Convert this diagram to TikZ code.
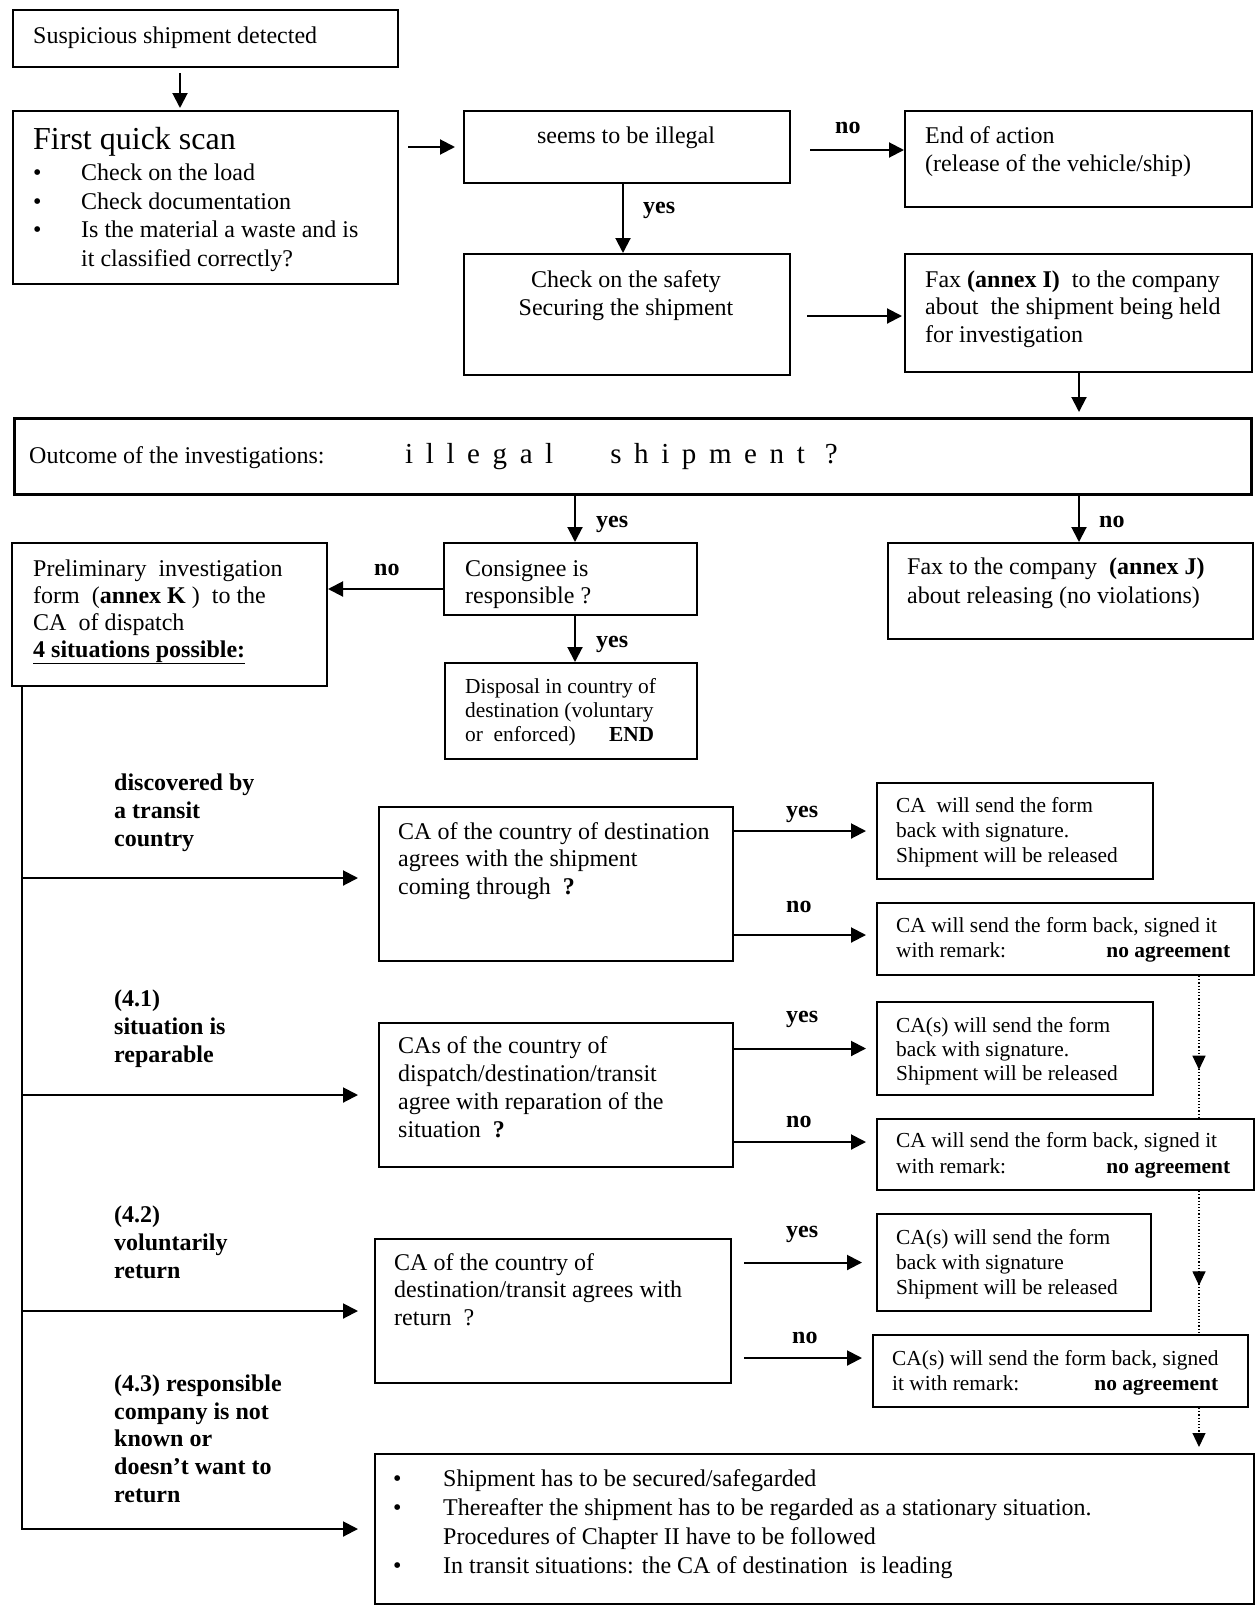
\documentclass[tikz,border=0pt]{standalone}
\usepackage{fontspec}
\setmainfont{Liberation Serif}
\usetikzlibrary{arrows.meta}
\usetikzlibrary{decorations.markings}

\newcommand{\lsp}{\hspace{12.6pt}}

\tikzset{
  box/.style={draw, line width=2pt, inner sep=0pt, anchor=north west},
  txt/.style={anchor=base west, inner sep=0pt, align=left, font=\fontsize{24}{28}\selectfont},
  smalltxt/.style={txt, font=\fontsize{21.4}{25}\selectfont},
  lbl/.style={txt, font=\fontsize{24}{27.6}\selectfont\bfseries},
  yn/.style={anchor=base west, inner sep=0pt, font=\fontsize{24}{28}\selectfont\bfseries},
  arr/.style={->, line width=2pt},
  dotarr/.style={line width=1.2pt, dotted, postaction={decorate},
    decoration={markings, mark=at position 0.66 with {\arrow{Triangle[length=14pt,width=13pt]}}}}
}

\begin{document}
\begin{tikzpicture}[x=1pt, y=-1pt, >={Triangle[length=15pt,width=15pt]}]
\useasboundingbox (0,0) rectangle (1255,1606);

% boxes
\node[box, minimum width=385pt, minimum height=57pt] (detect) at (12,9) {};
\node[box, minimum width=385pt, minimum height=173pt] (scan) at (12,110) {};
\node[box, minimum width=326pt, minimum height=72pt] (illegal) at (463,110) {};
\node[box, minimum width=347pt, minimum height=96pt] (endact) at (904,110) {};
\node[box, minimum width=326pt, minimum height=121pt] (safety) at (463,253) {};
\node[box, minimum width=347pt, minimum height=118pt] (faxI) at (904,253) {};
\node[box, line width=3pt, minimum width=1237pt, minimum height=76pt] (outcome) at (13,417) {};
\node[box, minimum width=253pt, minimum height=72pt] (consignee) at (443,542) {};
\node[box, minimum width=315pt, minimum height=143pt] (prelim) at (11,542) {};
\node[box, minimum width=252pt, minimum height=96pt] (disposal) at (444,662) {};
\node[box, minimum width=365pt, minimum height=96pt] (faxJ) at (887,542) {};
\node[box, minimum width=354pt, minimum height=154pt] (transitq) at (378,806) {};
\node[box, minimum width=276pt, minimum height=96pt] (transityes) at (876,782) {};
\node[box, minimum width=377pt, minimum height=72pt] (transitno) at (876,902) {};
\node[box, minimum width=354pt, minimum height=144pt] (repairq) at (378,1022) {};
\node[box, minimum width=276pt, minimum height=93pt] (repairyes) at (876,1001) {};
\node[box, minimum width=377pt, minimum height=71pt] (repairno) at (876,1118) {};
\node[box, minimum width=356pt, minimum height=144pt] (returnq) at (374,1238) {};
\node[box, minimum width=274pt, minimum height=97pt] (returnyes) at (876,1213) {};
\node[box, minimum width=375pt, minimum height=72pt] (returnno) at (872,1334) {};
\node[box, minimum width=879pt, minimum height=150pt] (final) at (374,1453) {};

% texts in the upper part (multi-line texts sit on their last line)
\node[txt] (detect-t) at (33,43) {Suspicious shipment detected};
\node[txt, font=\fontsize{32}{36}\selectfont] (scan-t) at (33,149) {First quick scan};
\node[txt, font=\fontsize{24}{28.4}\selectfont] (scan-l) at (33,266) {\makebox[48pt][l]{\textbullet}Check on the load\\
  \makebox[48pt][l]{\textbullet}Check documentation\\
  \makebox[48pt][l]{\textbullet}Is the material a waste and is\\
  \hspace*{48pt}it classified correctly?};
\node[txt, align=center, anchor=base] (illegal-t) at (626,143) {seems to be illegal};
\node[txt] (endact-t) at (925,171) {End of action\\(release of the vehicle/ship)};
\node[txt, align=center, anchor=base] (safety-t) at (626,315) {Check on the safety\\Securing the shipment};
\node[txt, font=\fontsize{24}{27.5}\selectfont] (faxI-t) at (925,342) {Fax \textbf{(annex I)}\ \ to the company\\about\ \ the shipment being held\\for investigation};
\node[txt] (outcome-t) at (29,463) {Outcome of the investigations:};
\node[txt, font=\fontsize{29}{30}\selectfont] (outcome-q) at (405,463)
  {i\lsp l\lsp l\lsp e\lsp g\lsp a\lsp l\hspace{57pt}s\lsp h\lsp i\lsp p\lsp m\lsp e\lsp n\lsp t\hspace{20pt}?};
\node[txt, font=\fontsize{24}{26.5}\selectfont] (consignee-t) at (465,603) {Consignee is\\responsible ?};
\node[txt, font=\fontsize{24}{26.7}\selectfont] (prelim-t) at (33,657) {Preliminary\ \ investigation\\form\ \ (\textbf{annex K} )\ \ to the\\CA\ \ of dispatch\\\underline{\textbf{4 situations possible:}}};
\node[smalltxt, font=\fontsize{21.4}{24}\selectfont] (disposal-t) at (465,741) {Disposal in country of\\destination (voluntary\\\makebox[189pt][l]{or\ \ enforced)\hfill\textbf{END}}};
\node[txt, font=\fontsize{24}{29}\selectfont] (faxJ-t) at (907,603) {Fax to the company\ \ \textbf{(annex J)}\\about releasing (no violations)};

% texts in the lower part
\node[lbl] (transit-l) at (114,846) {discovered by\\a transit\\country};
\node[lbl] (repair-l) at (114,1062) {(4.1)\\situation is\\reparable};
\node[lbl] (return-l) at (114,1278) {(4.2)\\voluntarily\\return};
\node[lbl] (unknown-l) at (114,1502) {(4.3) responsible\\company is not\\known or\\doesn’t want to\\return};

\node[txt, font=\fontsize{24}{27.5}\selectfont] (transitq-t) at (398,894) {CA of the country of destination\\agrees with the shipment\\coming through\ \ \textbf{?}};
\node[smalltxt] (transityes-t) at (896,862) {CA\ \ will send the form\\back with signature.\\Shipment will be released};
\node[smalltxt] (transitno-t) at (896,957) {CA will send the form back, signed it\\\makebox[334pt][l]{with remark:\hfill\textbf{no agreement}}};
\node[txt, font=\fontsize{24}{27.7}\selectfont] (repairq-t) at (398,1137) {CAs of the country of\\dispatch/destination/transit\\agree with reparation of the\\situation\ \ \textbf{?}};
\node[smalltxt, font=\fontsize{21.4}{24}\selectfont] (repairyes-t) at (896,1080) {CA(s) will send the form\\back with signature.\\Shipment will be released};
\node[smalltxt, font=\fontsize{21.4}{26}\selectfont] (repairno-t) at (896,1173) {CA will send the form back, signed it\\\makebox[334pt][l]{with remark:\hfill\textbf{no agreement}}};
\node[txt, font=\fontsize{24}{27.5}\selectfont] (returnq-t) at (394,1325) {CA of the country of\\destination/transit agrees with\\return\ \ ?};
\node[smalltxt] (returnyes-t) at (896,1294) {CA(s) will send the form\\back with signature\\Shipment will be released};
\node[smalltxt] (returnno-t) at (892,1390) {CA(s) will send the form back, signed\\\makebox[326pt][l]{it with remark:\hfill\textbf{no agreement}}};
\node[txt, font=\fontsize{24}{28.7}\selectfont] (final-t) at (393,1573) {\makebox[50pt][l]{\textbullet}Shipment has to be secured/safegarded\\
  \makebox[50pt][l]{\textbullet}Thereafter the shipment has to be regarded as a stationary situation.\\
  \hspace*{50pt}Procedures of Chapter II have to be followed\\
  \makebox[50pt][l]{\textbullet}In transit situations: the CA of destination\ \ is leading};

% yes / no
\node[yn] (no1) at (835,133) {no};
\node[yn] (yes1) at (643,213) {yes};
\node[yn] (yes2) at (596,527) {yes};
\node[yn] (no2) at (1099,527) {no};
\node[yn] (no3) at (374,575) {no};
\node[yn] (yes3) at (596,647) {yes};
\node[yn] (yes4) at (786,817) {yes};
\node[yn] (no4) at (786,912) {no};
\node[yn] (yes5) at (786,1022) {yes};
\node[yn] (no5) at (786,1127) {no};
\node[yn] (yes6) at (786,1237) {yes};
\node[yn] (no6) at (792,1343) {no};

% arrows
\draw[arr, shorten <=5pt, shorten >=2pt] (detect.south -| 180,0) -- (scan.north -| 180,0);
\draw[arr, shorten <=9pt, shorten >=8pt] (scan.east |- illegal.west) -- (illegal.west);
\draw[arr, shorten <=19pt] (illegal.east |- 0,150) -- (endact.west |- 0,150);
\draw[arr] (illegal.south -| 623,0) -- (safety.north -| 623,0);
\draw[arr, shorten <=16pt, shorten >=2pt] (safety.east |- 0,316) -- (faxI.west |- 0,316);
\draw[arr, shorten >=5pt] (faxI.south -| 1079,0) -- (outcome.north -| 1079,0);
\draw[arr] (outcome.south -| 575,0) -- (consignee.north -| 575,0);
\draw[arr] (outcome.south -| 1079,0) -- (faxJ.north -| 1079,0);
\draw[arr] (consignee.west |- 0,589) -- (prelim.east |- 0,589);
\draw[arr] (consignee.south -| 575,0) -- (disposal.north -| 575,0);

% the four situations
\coordinate (trunk) at ([xshift=11pt]prelim.south west);
\draw[arr, shorten >=16pt] (trunk) |- (final.west);
\draw[arr, shorten >=20pt] (trunk |- 0,878) -- (transitq.west |- 0,878);
\draw[arr, shorten >=20pt] (trunk |- repairq.west) -- (repairq.west);
\draw[arr, shorten >=16pt] (trunk |- returnq.west) -- (returnq.west);

\draw[arr, shorten >=10pt] (transitq.east |- transityes.west) -- (transityes.west);
\draw[arr, shorten >=10pt] (transitq.east |- 0,935) -- (transitno.west |- 0,935);
\draw[arr, shorten >=10pt] (repairq.east |- repairyes.west) -- (repairyes.west);
\draw[arr, shorten >=10pt] (repairq.east |- 0,1142) -- (repairno.west |- 0,1142);
\draw[arr, shorten <=12pt, shorten >=14pt] (returnq.east |- returnyes.west) -- (returnyes.west);
\draw[arr, shorten <=12pt, shorten >=10pt] (returnq.east |- 0,1358) -- (returnno.west |- 0,1358);

% dotted path on the right
\draw[dotarr] (transitno.south -| 1199,0) -- (repairno.north -| 1199,0);
\draw[dotarr] (repairno.south -| 1199,0) -- (returnno.north -| 1199,0);
\draw[line width=1.2pt, dotted, -{Triangle[length=14pt,width=13pt]}, shorten >=6pt] (returnno.south -| 1199,0) -- (final.north -| 1199,0);
\end{tikzpicture}
\end{document}
